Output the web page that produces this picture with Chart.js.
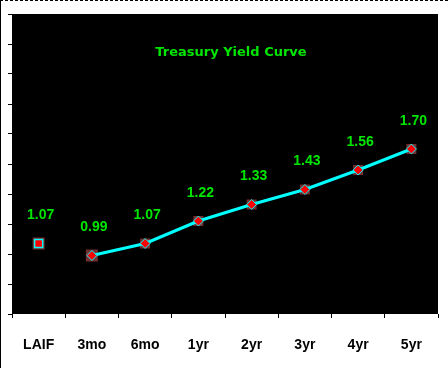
<!DOCTYPE html>
<html>
<head>
<meta charset="utf-8">
<title>Treasury Yield Curve</title>
<script src="https://cdn.jsdelivr.net/npm/chart.js@4"></script>
<style>
    body { margin: 0; background: #fff; }
    .wrap { position: relative; width: 448px; height: 368px; }
    .wrap canvas { position: absolute; left: 0; top: 0; }
    .frame {
        position: absolute; left: 0; top: 0; width: 447px; height: 367px;
        border-left: 1px solid #000; border-top: 1px dashed #000;
    }
</style>
</head>
<body>
<div class="wrap">
    <canvas id="yieldChart" width="448" height="368"></canvas>
    <div class="frame"></div>
</div>
<script>
// Yield data
const categories = ['LAIF', '3mo', '6mo', '1yr', '2yr', '3yr', '4yr', '5yr'];
const laifYield = [1.07, null, null, null, null, null, null, null];
const treasuryYields = [null, 0.99, 1.07, 1.22, 1.33, 1.43, 1.56, 1.70];
const yMin = 0.6;
const yMax = 2.6;
const yStep = 0.2;
const chartTitle = 'Treasury Yield Curve';

// black plot area, title inside it, squares behind points and value labels
const plotDecor = {
    id: 'plotDecor',
    beforeDatasetsDraw(chart) {
        const c = chart.ctx;
        const a = chart.chartArea;
        c.save();
        c.fillStyle = '#000';
        c.fillRect(a.left, a.top, a.right - a.left, a.bottom - a.top);
        c.font = 'bold 13px "DejaVu Sans"';
        c.fillStyle = '#00e600';
        c.textAlign = 'center';
        c.textBaseline = 'middle';
        c.fillText(chartTitle, 231, 53);
        // brownish squares behind markers
        chart.data.datasets.forEach((ds, i) => {
            chart.getDatasetMeta(i).data.forEach((pt, j) => {
                if (ds.data[j] === null) return;
                const s = (i === 0 || j === 1) ? 12 : 10;
                c.fillStyle = 'rgba(128, 52, 52, 0.9)';
                c.fillRect(pt.x - s / 2, pt.y - s / 2, s, s);
            });
        });
        c.restore();
    },
    afterDatasetsDraw(chart) {
        const c = chart.ctx;
        c.save();
        c.font = 'bold 14px "Liberation Sans"';
        c.fillStyle = '#00e600';
        c.textAlign = 'center';
        c.textBaseline = 'middle';
        chart.data.datasets.forEach((ds, i) => {
            chart.getDatasetMeta(i).data.forEach((pt, j) => {
                if (ds.data[j] === null) return;
                c.fillText(ds.data[j].toFixed(2), pt.x + 2, pt.y - 28);
            });
        });
        c.restore();
    }
};

document.addEventListener('DOMContentLoaded', function() {
    const ctx = document.getElementById('yieldChart').getContext('2d');
    const yieldChart = new Chart(ctx, {
        type: 'line',
        data: {
            labels: categories,
            datasets: [{
                label: 'LAIF',
                data: laifYield,
                showLine: false,
                pointStyle: 'rect',
                pointRadius: 5.7,
                backgroundColor: '#ff0000',
                borderColor: '#00ffff',
                borderWidth: 1.5
            }, {
                label: 'Treasury',
                data: treasuryYields,
                borderColor: '#00ffff',
                borderWidth: 3,
                tension: 0,
                pointStyle: 'rectRot',
                pointRadius: 5,
                pointBackgroundColor: '#ff0000',
                pointBorderColor: '#00ffff',
                pointBorderWidth: 1
            }]
        },
        options: {
            responsive: false,
            animation: false,
            events: [],
            layout: {
                padding: { left: 8, top: 14, right: 10, bottom: 0 }
            },
            scales: {
                x: {
                    offset: true,
                    grid: {
                        offset: true,
                        drawOnChartArea: false,
                        color: '#000',
                        tickLength: 4
                    },
                    border: { display: false },
                    ticks: {
                        color: '#000',
                        padding: 19,
                        maxRotation: 0,
                        autoSkip: false,
                        font: { family: 'Liberation Sans', size: 14, weight: 'bold' }
                    },
                    afterFit(scale) {
                        scale.height = 54;
                    }
                },
                y: {
                    min: yMin,
                    max: yMax,
                    grid: {
                        drawOnChartArea: false,
                        color: '#000',
                        tickLength: 4
                    },
                    border: { display: false },
                    ticks: {
                        display: false,
                        stepSize: yStep
                    }
                }
            },
            plugins: {
                legend: { display: false },
                tooltip: { enabled: false }
            }
        },
        plugins: [plotDecor]
    });
});
</script>
</body>
</html>
